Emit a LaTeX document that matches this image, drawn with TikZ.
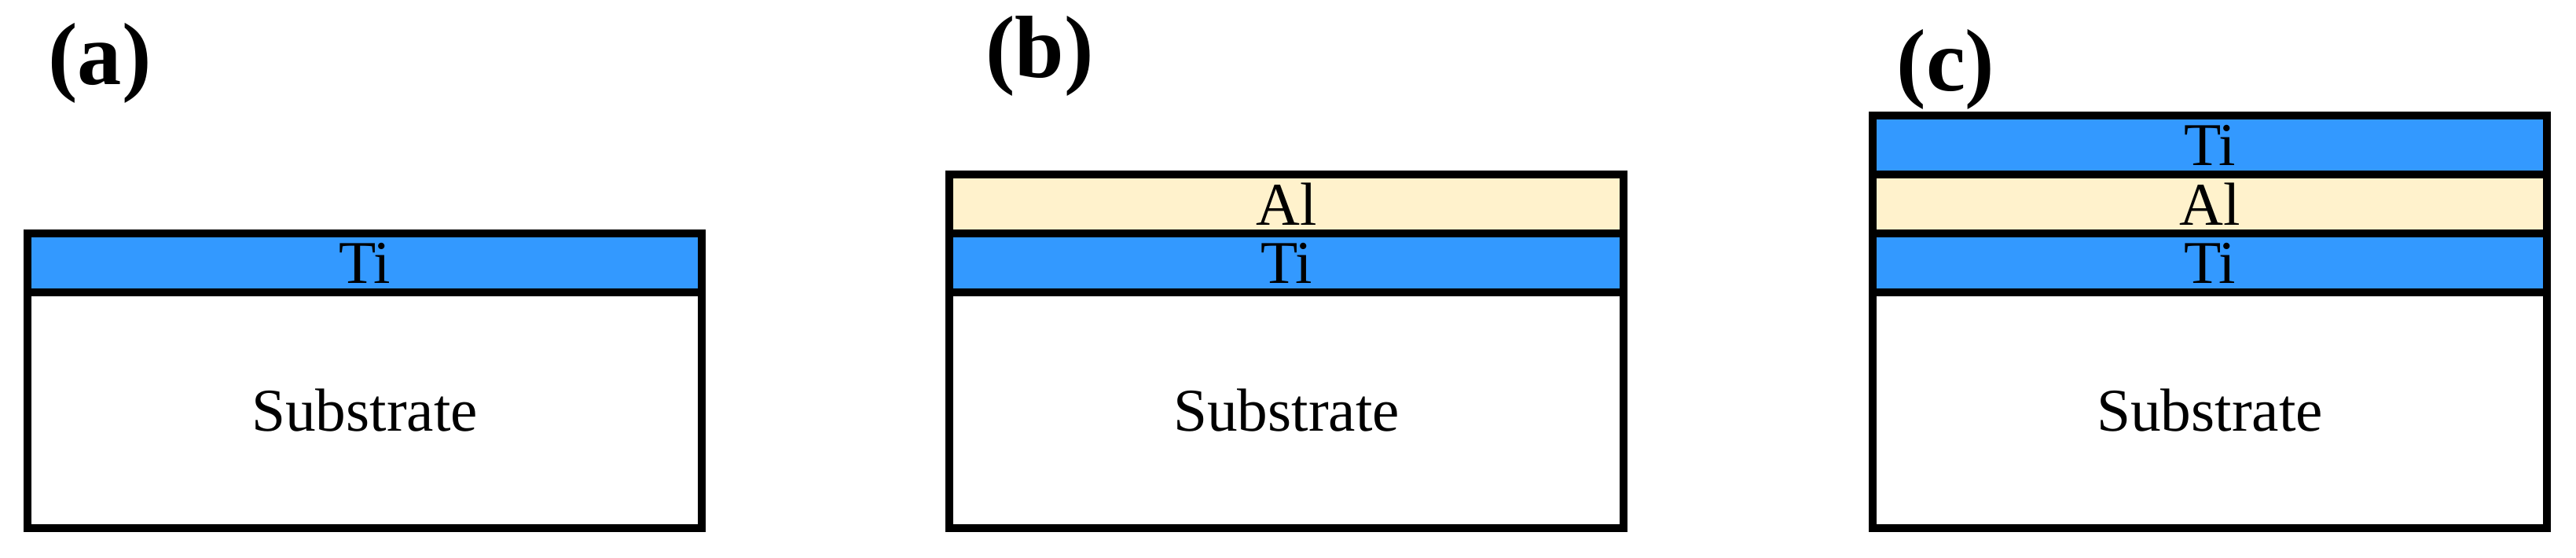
\documentclass[tikz,border=0pt]{standalone}
\usepackage{fontspec}
\setmainfont{Liberation Serif}
\usepackage{xcolor}
\usepackage{tikz}
\usetikzlibrary{positioning}
\definecolor{tiblue}{RGB}{51, 153, 255}
\definecolor{alcream}{RGB}{255, 242, 204}

\tikzset{
    layer/.style={draw, line width=2.85pt, outer sep=0pt, inner sep=0pt,
        minimum width=8.58cm, minimum height=0.75cm, font=\fontsize{22}{22}\selectfont},
    tilayer/.style={layer, fill=tiblue},
    allayer/.style={layer, fill=alcream},
    substrate/.style={layer, fill=white, minimum height=3cm},
    panel/.style={inner sep=0pt, font=\bfseries\fontsize{32}{32}\selectfont}
}

\begin{document}
\begin{tikzpicture}
            \useasboundingbox (0,0) rectangle (32.78,7.10);

            % (a) Ti on substrate
            \node[panel] (labA) at (1.27,6.30) {(a)};
            \node[substrate] (subA) at (4.64,1.88) {Substrate};
            \node[tilayer, above=0pt of subA] (tiA) {Ti};

            % (b) Al on Ti
            \node[panel] (labB) at (13.23,6.39) {(b)};
            \node[substrate] (subB) at (16.37,1.88) {Substrate};
            \node[tilayer, above=0pt of subB] (tiB) {Ti};
            \node[allayer, above=0pt of tiB] (alB) {Al};

            % (c) Ti/Al/Ti stack
            \node[panel] (labC) at (24.76,6.22) {(c)};
            \node[substrate] (subC) at (28.12,1.88) {Substrate};
            \node[tilayer, above=0pt of subC] (tiC) {Ti};
            \node[allayer, above=0pt of tiC] (alC) {Al};
            \node[tilayer, above=0pt of alC] (tiTopC) {Ti};
        \end{tikzpicture}
\end{document}
